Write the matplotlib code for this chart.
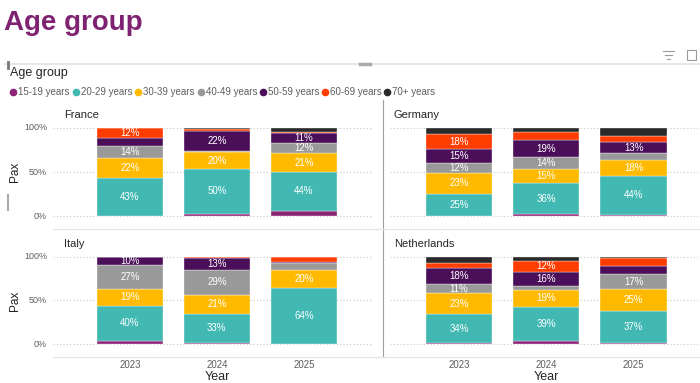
import matplotlib
matplotlib.use("Agg")
import matplotlib.pyplot as plt
from matplotlib.lines import Line2D
import numpy as np

plt.rcParams['font.family'] = ['Liberation Sans', 'DejaVu Sans']

years = ['2023', '2024', '2025']
ages = ['15-19 years', '20-29 years', '30-39 years', '40-49 years',
        '50-59 years', '60-69 years', '70+ years']
colors = ['#8B2377', '#41B8B2', '#FFBA00', '#999999', '#4B0F5A', '#FF3D00', '#2A2A2A']
countries = ['France', 'Germany', 'Italy', 'Netherlands']

# percent share per age group, across years 2023, 2024, 2025
france = [
    [0.5, 3, 6],
    [43, 50, 44],
    [22, 20, 21],
    [14, 1, 12],
    [8.5, 22, 11],
    [12, 3, 1],
    [0, 1, 5],
]
germany = [
    [0.5, 2, 1.5],
    [25, 36, 44],
    [23, 15, 18],
    [12, 14, 7.5],
    [15, 19, 13],
    [18, 9.5, 7],
    [6.5, 4.5, 9],
]
italy = [
    [4, 2, 0.3],
    [40, 33, 64],
    [19, 21, 20],
    [27, 29, 8],
    [10, 13, 1.5],
    [0, 1.5, 6.2],
    [0, 0.5, 0],
]
netherlands = [
    [1, 4, 1],
    [34, 39, 37],
    [23, 19, 25],
    [11, 5, 17],
    [18, 16, 9],
    [6, 12, 9.5],
    [7, 5, 1.5],
]
data = {'France': france, 'Germany': germany, 'Italy': italy, 'Netherlands': netherlands}

W, H = 700, 383
fig = plt.figure(figsize=(W / 100, H / 100), dpi=100)


def fx(x):
    return x / W


def fy(y):
    return 1 - y / H


def rect(x0, y0, x1, y1):
    return [fx(x0), fy(y1), fx(x1) - fx(x0), fy(y0) - fy(y1)]


# header
fig.text(fx(4), fy(23), 'Age group', fontsize=20, fontweight='bold', color='#7F2272',
         va='center', ha='left')
fig.add_artist(Line2D([fx(5), fx(700)], [fy(64), fy(64)], color='#E3E3E3', lw=1.2))
# small handles
fig.add_artist(Line2D([fx(360), fx(370)], [fy(64), fy(64)], color='#AAAAAA', lw=2.5))
fig.add_artist(Line2D([fx(8), fx(8)], [fy(62), fy(68)], color='#777777', lw=2))
fig.add_artist(Line2D([fx(8), fx(8)], [fy(195), fy(210)], color='#AAAAAA', lw=1.5))
# icons (filter + focus)
for yy, x0, x1 in [(51, 663, 674), (55, 665, 672), (59, 667, 670)]:
    fig.add_artist(Line2D([fx(x0), fx(x1)], [fy(yy), fy(yy)], color='#999999', lw=0.8))
fig.add_artist(plt.Rectangle((fx(687), fy(60)), fx(9), fy(50) - fy(60) if False else (fy(50) - fy(60)),
                             fill=False, ec='#999999', lw=0.8, transform=fig.transFigure))

fig.text(fx(10), fy(73), 'Age group', fontsize=9, color='#252423', va='center', ha='left')

# legend
lx = [13, 76, 138, 201, 263, 325, 387]
for x, lab, c in zip(lx, ages, colors):
    fig.add_artist(Line2D([fx(x)], [fy(92)], marker='o', markersize=4.5, color=c, lw=0))
    fig.text(fx(x + 5), fy(92), lab, fontsize=7, color='#605E5C', va='center', ha='left')

# panels
panel_rects = {
    'France': (53, 100, 383, 229),
    'Germany': (383, 100, 700, 229),
    'Italy': (53, 229, 383, 357),
    'Netherlands': (383, 229, 700, 357),
}
xlims = {'France': (-0.885, 2.91), 'Italy': (-0.885, 2.91),
         'Germany': (-0.87, 2.76), 'Netherlands': (-0.87, 2.76)}

for name in countries:
    x0, y0, x1, y1 = panel_rects[name]
    ax = fig.add_axes(rect(x0, y0, x1, y1))
    ax.set_xlim(*xlims[name])
    ax.set_ylim(-0.145, 1.315)
    for s in ax.spines.values():
        s.set_visible(False)
    ax.set_xticks([])
    ax.set_yticks([])
    ax.patch.set_alpha(0)
    left_col = name in ('France', 'Italy')
    gx0 = 0.0 if left_col else 7 / (x1 - x0)
    gx1 = (373 - x0) / (x1 - x0) if left_col else 1.0
    for g in (0, 0.5, 1.0):
        ax.axhline(g, gx0, gx1, color='#C8C8C8', lw=0.8, ls=(0, (1, 2)), zorder=0)
    vals = np.array(data[name]) / 100.0
    xs = np.arange(len(years))
    bottom = np.zeros(len(years))
    for i, (row, c) in enumerate(zip(vals, colors)):
        ax.bar(xs, row, 0.76, bottom=bottom, color=c, edgecolor='white', linewidth=0.25, zorder=2)
        for xi, v, b in zip(xs, row, bottom):
            if v * 100 >= 10:
                ax.text(xi, b + v / 2, f"{round(v * 100)}%", ha='center', va='center',
                        fontsize=7, color='white', zorder=3)
        bottom = bottom + row
    ax.text(11 / (x1 - x0), (y1 - 115 - (y0 - y0)) / (y1 - y0) if False else 1 - 15 / (y1 - y0),
            name, transform=ax.transAxes, fontsize=8, color='#252423', va='center', ha='left')
    if left_col:
        for g, lab in zip((0, 0.5, 1.0), ('0%', '50%', '100%')):
            ax.text(-6 / (x1 - x0), ax.transLimits.transform((0, g))[1], lab,
                    transform=ax.transAxes, fontsize=6.5, color='#605E5C', ha='right', va='center')
        fig.text(fx(15), fy(y0 + (y1 - y0) * 0.0) - 0 if False else
                 ax.transAxes.transform((0, ax.transLimits.transform((0, 0.5))[1]))[1] / (H),
                 'Pax', rotation=90, fontsize=8.5, color='#252423', ha='center', va='center')
    if name in ('Italy', 'Netherlands'):
        for xi, yr in zip(xs, years):
            xpix = ax.transData.transform((xi, 0))[0]
            fig.text(xpix / W, fy(365), yr, fontsize=7, color='#605E5C', ha='center', va='center')
        fig.text(ax.transData.transform((1, 0))[0] / W, fy(377), 'Year', fontsize=9,
                 color='#252423', ha='center', va='center')

# dividers
fig.add_artist(Line2D([fx(383), fx(383)], [fy(100), fy(357)], color='#A0A0A0', lw=0.8))
fig.add_artist(Line2D([fx(53), fx(700)], [fy(229), fy(229)], color='#E6E6E6', lw=1.0))
fig.add_artist(Line2D([fx(53), fx(700)], [fy(357), fy(357)], color='#E6E6E6', lw=1.0))

fig.savefig('out.png', dpi=100)
